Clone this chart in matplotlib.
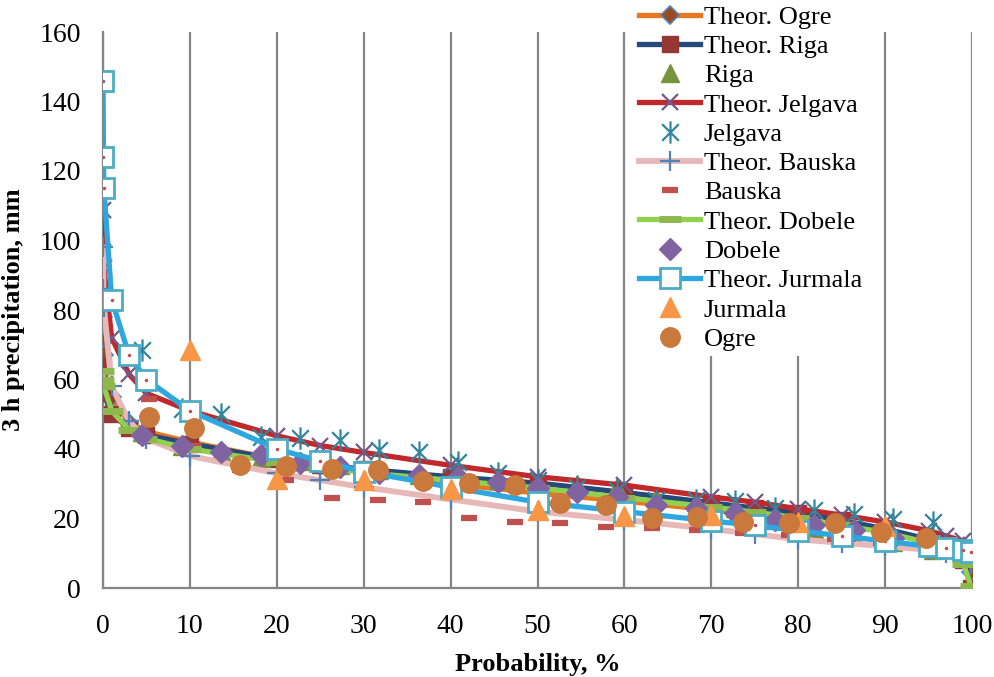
import matplotlib
matplotlib.use("Agg")
import matplotlib.pyplot as plt
from matplotlib.path import Path

# ---------------- data ----------------
P_theor = [0.01, 0.05, 0.1, 1, 3, 5, 10, 20, 25, 30, 40, 50, 60, 70, 75, 80, 85, 90, 95, 97, 99, 99.9]

theor_ogre    = [78, 70.8, 67, 55, 47.5, 45, 42, 37, 35, 33.5, 30, 27.3, 25, 22.5, 21, 19.5, 18, 16.3, 14, 12.5, 10, 4.5]
theor_riga    = [64, 59, 56, 50, 46, 44, 41.5, 37, 35.5, 34.2, 32, 30.2, 27.5, 24.5, 23, 21.6, 19.5, 17, 14, 12, 8, 0]
theor_jelgava = [108.8, 96.7, 92, 72, 61.5, 56, 51, 43.8, 41, 39, 35.3, 32, 29.6, 26.2, 24.7, 22.8, 21, 19, 16.5, 15, 13.5, 12.5]
theor_bauska  = [98, 86, 81, 58, 48, 43, 38, 33, 31, 29, 25.5, 22, 19.6, 17, 15.5, 14, 13, 12, 11, 10, 8.5, 7]
theor_dobele  = [62.5, 60, 58, 51, 45.5, 43, 40, 36.3, 34.8, 33.2, 31, 28.8, 26, 23.3, 21.8, 20.2, 18, 16, 13, 11, 7, 0.5]
theor_jurmala = [146, 124, 115, 83, 67, 60, 51, 40, 36.5, 33.5, 29, 24.7, 22, 19.3, 18, 16.5, 15, 13.5, 12, 11.5, 10.8, 10.3]

P_n21 = [4.5, 9.1, 13.6, 18.2, 22.7, 27.3, 31.8, 36.4, 40.9, 45.5, 50, 54.5, 59.1, 63.6, 68.2, 72.7, 77.3, 81.8, 86.4, 90.9, 95.5]
P_n18 = [5.3, 10.5, 15.8, 21.1, 26.3, 31.6, 36.8, 42.1, 47.4, 52.6, 57.9, 63.2, 68.4, 73.7, 78.9, 84.2, 89.5, 94.7]
P_n9  = [10, 20, 30, 40, 50, 60, 70, 80, 90]

riga_obs    = [45, 41, 39.5, 37.5, 36.5, 35.5, 34, 32.5, 31.5, 31, 30.5, 30, 29, 26.2, 24.7, 23, 19.5, 17, 15, 13.2, 11]
jelgava_obs = [68.5, 51.5, 50, 43.5, 43.2, 42.6, 39.7, 39.1, 36.2, 33, 31, 29, 28.2, 25.3, 25.3, 25, 23, 22.4, 21.3, 20, 19]
bauska_obs  = [54.5, 41, 34, 31, 26, 25.3, 24.7, 20.1, 19, 18.7, 17.6, 17.3, 16.7, 15.9, 15.3, 14.2, 13, 12]
dobele_obs  = [44, 40.9, 39.1, 38.3, 36, 34.8, 33, 32.5, 32, 30.5, 28.8, 27.6, 26.2, 23.9, 23, 21.6, 19.6, 18.1, 16.7, 14.4, 13]
jurmala_obs = [68.5, 31.5, 31, 28.5, 22.5, 20.8, 21, 19, 17.8]
ogre_obs    = [49.2, 46, 35.4, 35.1, 34.3, 34, 30.7, 30.2, 29.6, 24.5, 23.8, 20.1, 20.4, 19, 18.7, 18.7, 16.1, 14.4]

x_ticks = [0, 10, 20, 30, 40, 50, 60, 70, 80, 90, 100]
y_ticks = [0, 20, 40, 60, 80, 100, 120, 140, 160]

# Excel-style asterisk marker: X plus vertical bar
ast = Path([(0, -1), (0, 1), (-0.75, -0.75), (0.75, 0.75), (-0.75, 0.75), (0.75, -0.75)],
           [Path.MOVETO, Path.LINETO, Path.MOVETO, Path.LINETO, Path.MOVETO, Path.LINETO])

# ---------------- figure ----------------
plt.rcParams['font.family'] = ['Liberation Serif', 'DejaVu Serif']
fig = plt.figure(figsize=(9.95, 6.77), dpi=100)
ax = fig.add_axes([103/995, 1-588/677, (972-103)/995, (588-32)/677])

lw = 3.8
z = 3
ax.plot(P_theor, theor_ogre, color='#E87722', lw=lw, marker='D', ms=9,
        mfc='#9A4A1C', mec='#4F81BD', mew=1.2, label='Theor. Ogre', zorder=z); z += 1
ax.plot(P_theor, theor_riga, color='#24497A', lw=lw, marker='s', ms=11,
        mfc='#953735', mec='#953735', label='Theor. Riga', zorder=z); z += 1
ax.plot(P_n21, riga_obs, ls='none', marker='^', ms=13, mfc='#77933C', mec='#77933C',
        label='Riga', zorder=z); z += 1
ax.plot(P_theor, theor_jelgava, color='#C0282B', lw=lw, marker='x', ms=12,
        mec='#6E5A8A', mew=1.6, label='Theor. Jelgava', zorder=z); z += 1
ax.plot(P_n21, jelgava_obs, ls='none', marker=ast, ms=16, mec='#31859C', mew=1.6,
        label='Jelgava', zorder=z); z += 1
ax.plot(P_theor, theor_bauska, color='#E6B9B8', lw=4.2, marker='+', ms=15,
        mec='#4F81BD', mew=1.6, label='Theor. Bauska', zorder=z); z += 1
ax.plot(P_n18, bauska_obs, ls='none', marker='_', ms=11, mec='#C0504D', mew=4.5,
        label='Bauska', zorder=z); z += 1
ax.plot(P_theor, theor_dobele, color='#92D050', lw=lw, marker='_', ms=16,
        mec='#8DB84E', mew=5, label='Theor. Dobele', zorder=z); z += 1
ax.plot(P_n21, dobele_obs, ls='none', marker='D', ms=11, mfc='#8064A2', mec='#8064A2',
        label='Dobele', zorder=z); z += 1
ax.plot(P_theor, theor_jurmala, color='#2EA6DF', lw=lw, marker='s', ms=14,
        mfc='white', mec='#4BACC6', mew=2, label='Theor. Jurmala', zorder=z); z += 1
ax.plot(P_theor, theor_jurmala, ls='none', marker='.', ms=3, color='#C0504D', zorder=z); z += 1
ax.plot(P_n9, jurmala_obs, ls='none', marker='^', ms=15, mfc='#F79646', mec='#F79646',
        label='Jurmala', zorder=z); z += 1
ax.plot(P_n18, ogre_obs, ls='none', marker='o', ms=14, mfc='#C8793B', mec='#C8793B',
        label='Ogre', zorder=z); z += 1

ax.set_xlim(0, 100)
ax.set_ylim(0, 160)
ax.set_xticks(x_ticks)
ax.set_yticks(y_ticks)
ax.tick_params(axis='both', length=0, labelsize=20)
ax.tick_params(axis='x', pad=19)
ax.tick_params(axis='y', pad=16)
ax.grid(axis='x', color='#858585', lw=1.6)
ax.set_axisbelow(True)
for s in ['top', 'right']:
    ax.spines[s].set_visible(False)
for s in ['left', 'bottom']:
    ax.spines[s].set_color('#858585')
    ax.spines[s].set_linewidth(1.6)

ax.set_xlabel('Probability, %', fontsize=19, fontweight='bold', labelpad=10)
ax.set_ylabel('3 h precipitation, mm', fontsize=19, fontweight='bold', labelpad=10)

leg = fig.legend(loc='upper left', bbox_to_anchor=(634/995, 1.0), fontsize=19,
                 frameon=True, facecolor='white', edgecolor='none', framealpha=1,
                 handlelength=2.3, handletextpad=0.15, labelspacing=0.22,
                 borderpad=0.2, borderaxespad=0)
leg.set_zorder(100)

fig.savefig('out.png', dpi=100)
